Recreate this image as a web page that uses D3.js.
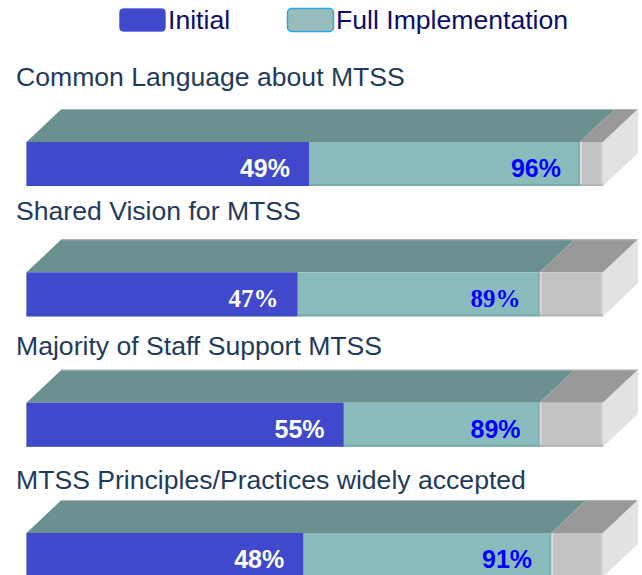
<!DOCTYPE html>
<html>
<head>
<meta charset="utf-8">
<script src="https://cdn.jsdelivr.net/npm/d3@7"></script>
<style>
  html, body { margin: 0; padding: 0; background: #fff; }
  svg { display: block; }
</style>
</head>
<body>
<svg id="chart"></svg>
<script>
// data
const categories   = ['Common Language about MTSS', 'Shared Vision for MTSS', 'Majority of Staff Support MTSS', 'MTSS Principles/Practices widely accepted']
const initial      = [49, 47, 55, 48]
const fullImpl     = [96, 89, 89, 91]
const seriesNames  = ['Initial', 'Full Implementation']

// label font per bar (the original mixes fonts)
const labelFonts   = ['Arial, "Liberation Sans", sans-serif', '"Times New Roman", "Liberation Serif", serif', 'Arial, "Liberation Sans", sans-serif', 'Arial, "Liberation Sans", sans-serif']

const
  width     = 642,
  height    = 575,
  depthX    = 35,
  depthY    = 33,
  barH      = 44,
  sansFont  = 'Arial, "Liberation Sans", sans-serif'

const colors = {
  initial   : '#4048cc',
  full      : '#89bbbc',
  fullTop   : '#6a918f',
  rest      : '#c3c3c3',
  restTop   : '#999999',
  side      : '#e2e2e2',
  title     : '#1f3b5c',
  legend    : '#0d0d6b'
}

const svg = d3.select('#chart')
  .attr('width', width)
  .attr('height', height)

const x      = d3.scaleLinear().domain([0, 100]).range([26.5, 603])
const y      = d3.scalePoint().domain(categories).range([142, 533])
const yTitle = d3.scalePoint().domain(categories).range([86, 489])

// legend
const legend = svg.append('g')
const legendX = [119, 287]
seriesNames.forEach((name, i) =>
{
  const g = legend.append('g').attr('transform', `translate(${legendX[i]},8)`)
  g.append('rect')
    .attr('x', 0.5).attr('y', 0.5)
    .attr('width', 46).attr('height', 23)
    .attr('rx', 4)
    .attr('fill', i === 0 ? colors.initial : '#98bbbb')
    .attr('stroke', i === 0 ? '#5a60d8' : '#2aa6e0')
    .attr('stroke-width', i === 0 ? 0.5 : 1.5)
  g.append('text')
    .attr('x', 49).attr('y', 21)
    .attr('font-family', sansFont)
    .attr('font-size', 26.6)
    .attr('fill', colors.legend)
    .text(name)
})

const poly = pts => 'M' + pts.map(p => p.join(',')).join('L') + 'Z'

categories.forEach((cat, i) =>
{
  const
    top   = y(cat),
    x0    = x(0),
    xi    = x(initial[i]),
    xf    = x(fullImpl[i]),
    x1    = x(100),
    g     = svg.append('g')

  // title
  g.append('text')
    .attr('x', 16)
    .attr('y', yTitle(cat))
    .attr('font-family', sansFont)
    .attr('font-size', 26.6)
    .attr('fill', colors.title)
    .text(cat)

  // top faces
  g.append('path')
    .attr('d', poly([[x0, top], [xf, top], [xf + depthX, top - depthY], [x0 + depthX, top - depthY]]))
    .attr('fill', colors.fullTop)
  g.append('path')
    .attr('d', poly([[xf, top], [x1, top], [x1 + depthX, top - depthY], [xf + depthX, top - depthY]]))
    .attr('fill', colors.restTop)
  g.append('line')
    .attr('x1', x0 + depthX).attr('x2', x1 + depthX)
    .attr('y1', top - depthY + 0.5).attr('y2', top - depthY + 0.5)
    .attr('stroke', '#b4b4b4').attr('stroke-width', 1)

  // side face
  g.append('path')
    .attr('d', poly([[x1, top], [x1 + depthX, top - depthY], [x1 + depthX, top - depthY + barH], [x1, top + barH]]))
    .attr('fill', colors.side)

  // front faces
  g.append('rect')
    .attr('x', xf).attr('y', top)
    .attr('width', x1 - xf).attr('height', barH)
    .attr('fill', colors.rest)
  g.append('rect')
    .attr('x', xf).attr('y', top)
    .attr('width', 2).attr('height', barH)
    .attr('fill', '#dcdcdc')
  g.append('rect')
    .attr('x', x1 - 2).attr('y', top)
    .attr('width', 2).attr('height', barH)
    .attr('fill', '#d4d4d4')
  g.append('rect')
    .attr('x', xf).attr('y', top + barH - 2)
    .attr('width', x1 - xf).attr('height', 2)
    .attr('fill', '#b4b4b4')

  g.append('rect')
    .attr('x', x0).attr('y', top)
    .attr('width', xf - x0).attr('height', barH)
    .attr('fill', colors.full)
  g.append('rect')
    .attr('x', x0).attr('y', top + barH - 2)
    .attr('width', xf - x0).attr('height', 2)
    .attr('fill', '#7aa9aa')
  g.append('rect')
    .attr('x', xf - 2).attr('y', top)
    .attr('width', 2).attr('height', barH)
    .attr('fill', '#7fb1b2')

  g.append('rect')
    .attr('x', x0).attr('y', top)
    .attr('width', xi - x0).attr('height', barH)
    .attr('fill', colors.initial)

  // value labels
  g.append('text')
    .attr('x', xi - 19)
    .attr('y', top + barH - 9)
    .attr('text-anchor', 'end')
    .attr('font-family', labelFonts[i])
    .attr('font-weight', 'bold')
    .attr('font-size', 25)
    .attr('fill', '#ffffff')
    .text(initial[i] + '%')
  g.append('text')
    .attr('x', xf - 19)
    .attr('y', top + barH - 9)
    .attr('text-anchor', 'end')
    .attr('font-family', labelFonts[i])
    .attr('font-weight', 'bold')
    .attr('font-size', 25)
    .attr('fill', '#0000ff')
    .text(fullImpl[i] + '%')
})
</script>
</body>
</html>
